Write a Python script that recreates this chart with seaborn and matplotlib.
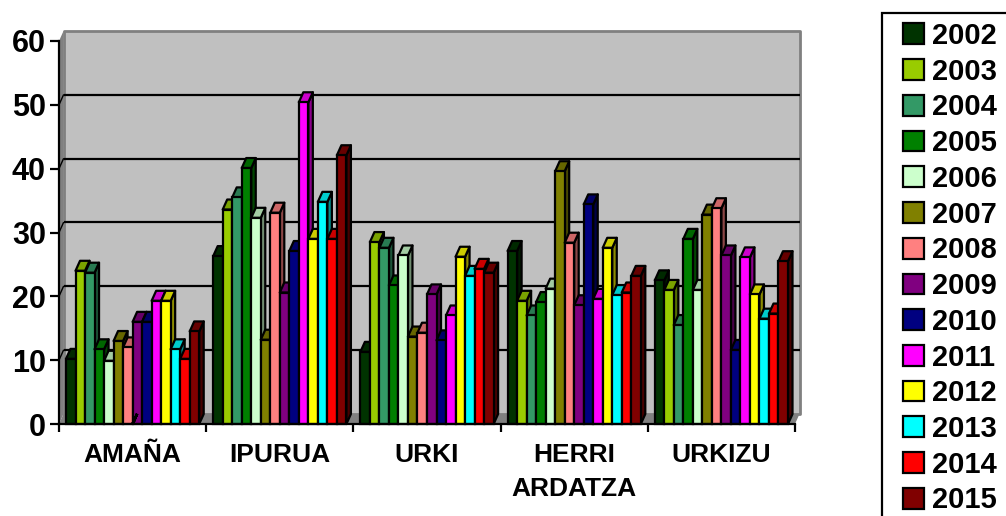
import matplotlib
matplotlib.use('Agg')
import matplotlib.pyplot as plt
from matplotlib.colors import to_rgb
from matplotlib.patches import Polygon, Rectangle
import pandas as pd
import seaborn as sns

sites = ["AMAÑA", "IPURUA", "URKI", "HERRI\nARDATZA", "URKIZU"]
y2002 = [10.2, 26.3, 11.3, 27.1, 22.5]
y2003 = [24.0, 33.6, 28.5, 19.3, 21.0]
y2004 = [23.7, 35.5, 27.6, 17.0, 15.5]
y2005 = [11.7, 40.1, 21.7, 19.1, 29.0]
y2006 = [9.9, 32.3, 26.4, 21.2, 21.0]
y2007 = [13.0, 13.2, 13.7, 39.6, 32.8]
y2008 = [12.0, 33.1, 14.3, 28.4, 33.8]
y2009 = [16.0, 20.6, 20.3, 18.6, 26.4]
y2010 = [16.0, 27.1, 13.1, 34.4, 11.6]
y2011 = [19.3, 50.4, 17.0, 19.6, 26.1]
y2012 = [19.3, 29.0, 26.2, 27.6, 20.3]
y2013 = [11.7, 34.8, 23.2, 20.2, 16.5]
y2014 = [10.2, 29.0, 24.3, 20.6, 17.3]
y2015 = [14.5, 42.1, 23.7, 23.2, 25.5]

years = ["2002", "2003", "2004", "2005", "2006", "2007", "2008",
         "2009", "2010", "2011", "2012", "2013", "2014", "2015"]
series = [y2002, y2003, y2004, y2005, y2006, y2007, y2008,
          y2009, y2010, y2011, y2012, y2013, y2014, y2015]
colors = ["#003300", "#99CC00", "#339966", "#008000", "#CCFFCC", "#808000", "#FF8080",
          "#800080", "#000080", "#FF00FF", "#FFFF00", "#00FFFF", "#FF0000", "#800000"]

rows = []
for year, vals in zip(years, series):
    for site, val in zip(sites, vals):
        rows.append({"site": site, "year": year, "value": val})
df = pd.DataFrame(rows)

sns.set_theme(style="white")
plt.rcParams['font.family'] = ['Liberation Sans', 'DejaVu Sans']
plt.rcParams['font.weight'] = 'bold'
plt.rcParams['text.color'] = 'black'
plt.rcParams['xtick.labelcolor'] = 'black'
plt.rcParams['ytick.labelcolor'] = 'black'

W, H = 1006, 516
fig = plt.figure(figsize=(W / 100, H / 100), dpi=100)
ax = fig.add_axes([59 / W, 1 - 424 / H, (795 - 59) / W, (424 - 41) / H])

LW = 1.6
sns.barplot(data=df, x="site", y="value", hue="year", order=sites, hue_order=years,
            palette=dict(zip(years, colors)), width=0.905, gap=0, saturation=1,
            edgecolor="black", linewidth=LW, ax=ax)
ax.set_xlim(-0.5, 4.5)
ax.set_ylim(0, 60)

# fake depth of the old spreadsheet 3D look, 4.5px right and 10px up
dx = 4.5 / 147.2
dy = 10 / 6.383
x0, x1 = -0.5, 4.5


def shade(color, k):
    return tuple(c * k for c in to_rgb(color))


def add_poly(pts, face, z, edge="none", lw=0):
    ax.add_patch(Polygon(pts, closed=True, facecolor=face, edgecolor=edge, linewidth=lw,
                         zorder=z, clip_on=False, joinstyle="round"))


# keep the seaborn bars before the extra polygons land in ax.patches
bars = sorted(ax.patches, key=lambda p: p.get_x())

# walls and floor
add_poly([(x0 + dx, dy), (x1 + dx, dy), (x1 + dx, 60 + dy), (x0 + dx, 60 + dy)], "#C0C0C0", 0.1,
         edge="#808080", lw=2)
add_poly([(x0, 0), (x0 + dx, dy), (x0 + dx, 60 + dy), (x0, 60)], "#808080", 0.2)
add_poly([(x0, 0), (x1, 0), (x1 + dx, dy), (x0 + dx, dy)], "#808080", 0.2)
for v in range(10, 60, 10):
    ax.plot([x0 + dx, x1 + dx], [v + dy, v + dy], color="black", lw=LW, zorder=0.3,
            solid_capstyle="butt", clip_on=False)
    ax.plot([x0, x0 + dx], [v, v + dy], color="black", lw=1, zorder=0.3, clip_on=False)

# side and top of every bar, left to right so the next bar covers the previous side
for i, bar in enumerate(bars):
    left = bar.get_x()
    right = left + bar.get_width()
    top = bar.get_height()
    face = bar.get_facecolor()
    z = 3 + i * 0.01
    add_poly([(right, 0), (right + dx, dy), (right + dx, top + dy), (right, top)],
             shade(face, 0.55), z, "black", LW)
    add_poly([(left, top), (left + dx, top + dy), (right + dx, top + dy), (right, top)],
             shade(face, 0.8), z, "black", LW)
    bar.set_zorder(z + 0.001)
    bar.set_clip_on(False)

for side in ["top", "right"]:
    ax.spines[side].set_visible(False)
for side in ["left", "bottom"]:
    ax.spines[side].set_color("black")
    ax.spines[side].set_linewidth(LW)
    ax.spines[side].set_zorder(5)

ax.set_xlabel("")
ax.set_ylabel("")
ax.set_yticks(range(0, 70, 10))
ax.set_xticks([i - 0.5 for i in range(6)], minor=True)
ax.tick_params(axis="x", which="minor", bottom=True, length=6, width=LW, color="black")
ax.tick_params(axis="x", which="major", bottom=False, pad=8, labelsize=19, labelcolor="black")
ax.tick_params(axis="y", left=True, length=6.5, width=LW, color="black", pad=3, labelsize=22,
               labelcolor="black")
for t in ax.get_xticklabels():
    t.set_fontweight("bold")
    t.set_linespacing(1.5)
for t in ax.get_yticklabels():
    t.set_fontweight("bold")

handles, labels = ax.get_legend_handles_labels()
leg = ax.legend(handles, labels, loc="upper left", bbox_to_anchor=(903 / W, 1 - 22 / H),
                bbox_transform=fig.transFigure, frameon=False, borderaxespad=0, borderpad=0,
                prop={"family": "Liberation Sans", "weight": "bold", "size": 21},
                handlelength=0.72, handleheight=0.72, handletextpad=0.26, labelspacing=0.265)
leg.set_zorder(10)
for h in leg.get_patches():
    h.set_linewidth(LW)
    h.set_edgecolor("black")
for t in leg.get_texts():
    t.set_color("black")

# legend box runs off the page on the right and bottom
fig.add_artist(Rectangle((882 / W, -0.1), 0.3, 1.1 - 13 / H, transform=fig.transFigure,
                         facecolor="none", edgecolor="black", linewidth=LW))

fig.savefig("out.png", dpi=100)
